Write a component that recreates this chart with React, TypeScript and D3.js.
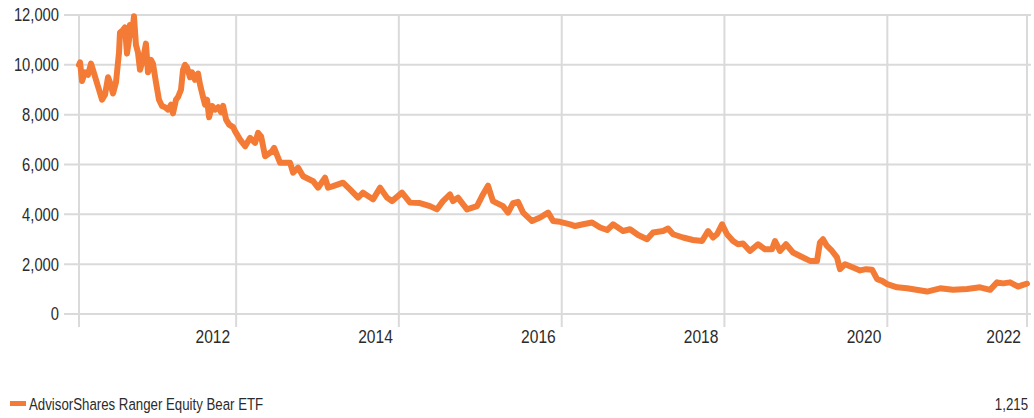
import React, { useEffect, useRef } from "react";
import * as d3 from "d3";

// dates as fractional years, values as growth of 10,000
const dates = [
  2011.071, 2011.084, 2011.108, 2011.145, 2011.182, 2011.219, 2011.243, 2011.28, 2011.317, 2011.354,
  2011.391, 2011.428, 2011.452, 2011.489, 2011.526, 2011.563, 2011.575, 2011.612, 2011.636, 2011.661,
  2011.686, 2011.698, 2011.722, 2011.747, 2011.771, 2011.796, 2011.821, 2011.857, 2011.894, 2011.919,
  2011.956, 2011.98, 2012.017, 2012.054, 2012.091, 2012.128, 2012.165, 2012.201, 2012.226, 2012.263,
  2012.287, 2012.324, 2012.349, 2012.373, 2012.398, 2012.435, 2012.459, 2012.496, 2012.533, 2012.558,
  2012.595, 2012.619, 2012.644, 2012.668, 2012.705, 2012.742, 2012.779, 2012.816, 2012.84, 2012.877,
  2012.914, 2012.963, 2012.988, 2013.049, 2013.111, 2013.172, 2013.233, 2013.27, 2013.307, 2013.356,
  2013.442, 2013.467, 2013.541, 2013.663, 2013.7, 2013.762, 2013.823, 2013.946, 2014.007, 2014.093,
  2014.13, 2014.192, 2014.314, 2014.4, 2014.499, 2014.56, 2014.683, 2014.769, 2014.855, 2014.916,
  2015.039, 2015.138, 2015.26, 2015.383, 2015.469, 2015.543, 2015.629, 2015.666, 2015.727, 2015.838,
  2015.961, 2016.034, 2016.096, 2016.157, 2016.28, 2016.342, 2016.403, 2016.464, 2016.526, 2016.636,
  2016.735, 2016.833, 2016.894, 2016.98, 2017.103, 2017.165, 2017.263, 2017.373, 2017.472, 2017.558,
  2017.631, 2017.754, 2017.84, 2017.939, 2018.049, 2018.123, 2018.246, 2018.307, 2018.369, 2018.491,
  2018.614, 2018.725, 2018.799, 2018.86, 2018.909, 2018.971, 2019.032, 2019.106, 2019.167, 2019.229,
  2019.314, 2019.413, 2019.499, 2019.585, 2019.622, 2019.683, 2019.757, 2019.843, 2019.929, 2020.052,
  2020.138, 2020.174, 2020.211, 2020.26, 2020.322, 2020.383, 2020.42, 2020.482, 2020.58, 2020.666,
  2020.74, 2020.813, 2020.875, 2020.936, 2020.998, 2021.12, 2021.243, 2021.489, 2021.649, 2021.808,
  2021.98, 2022.14, 2022.263, 2022.349, 2022.423, 2022.509, 2022.607, 2022.668, 2022.717,
];

const values = [
  10000, 10100, 9350, 9700, 9600, 10050, 9800, 9400, 9000, 8600,
  8800, 9500, 9300, 8850, 9300, 10500, 11300, 11400, 11500, 10450,
  11000, 11600, 11200, 11950, 10800, 10500, 9800, 10200, 10850, 9700,
  10200, 10050, 9300, 8600, 8350, 8300, 8200, 8400, 8050, 8600,
  8700, 9000, 9800, 10000, 9900, 9500, 9700, 9400, 9650, 9200,
  8700, 8400, 8600, 7900, 8350, 8200, 8300, 8100, 8350, 7800,
  7600, 7500, 7330, 7000, 6730, 7070, 6870, 7270, 7130, 6330,
  6530, 6670, 6070, 6070, 5670, 5870, 5530, 5330, 5070, 5470,
  5070, 5130, 5270, 5000, 4670, 4870, 4600, 5070, 4670, 4530,
  4870, 4470, 4450, 4330, 4200, 4530, 4800, 4530, 4670, 4200,
  4330, 4800, 5150, 4530, 4330, 4070, 4450, 4500, 4070, 3730,
  3870, 4070, 3730, 3700, 3600, 3530, 3600, 3670, 3470, 3370,
  3600, 3330, 3400, 3170, 3000, 3270, 3330, 3430, 3200, 3070,
  2970, 2930, 3330, 3070, 3200, 3600, 3200, 2930, 2800, 2830,
  2530, 2800, 2600, 2600, 2930, 2530, 2800, 2470, 2330, 2130,
  2130, 2870, 3000, 2730, 2530, 2270, 1800, 2000, 1870, 1750,
  1800, 1780, 1400, 1330, 1200, 1070, 1030, 900, 1030, 970,
  1000, 1070, 970, 1270, 1230, 1270, 1100, 1170, 1215,
];

const yTicks = [0, 2000, 4000, 6000, 8000, 10000, 12000];
const tickYears = [2012, 2014, 2016, 2018, 2020, 2022];
const seriesName = "AdvisorShares Ranger Equity Bear ETF";
const lastValue = "1,215";

const toDate = (y: number) => {
  const yr = Math.floor(y);
  const start = new Date(yr, 0, 1).getTime();
  const end = new Date(yr + 1, 0, 1).getTime();
  return new Date(start + (y - yr) * (end - start));
};

const App: React.FC = () => {
  const svgRef = useRef<SVGSVGElement>(null);
  const width = 1034;
  const height = 418;
  // no condensed face installed, so squeeze Liberation Sans horizontally
  const font = "'Liberation Sans', Arial, sans-serif";
  const orange = "#f47b36";
  const grid = "#dadada";
  const ink = "#2b2b2b";

  useEffect(() => {
    const svg = d3.select(svgRef.current);
    svg.selectAll("*").remove();

    const label = (
      g: d3.Selection<any, any, any, any>,
      x: number,
      y: number,
      size: number,
      squeeze: number,
      anchor: string,
      txt: string,
      dy = "0",
    ) =>
      g.append("text")
        .attr("transform", `translate(${x},${y}) scale(${squeeze},1)`)
        .attr("dy", dy)
        .attr("text-anchor", anchor)
        .attr("font-family", font)
        .attr("font-size", size)
        .attr("fill", ink)
        .text(txt);

    const data = dates.map((d, i) => ({ date: toDate(d), value: values[i] }));
    const start = data[0].date;
    const end = data[data.length - 1].date;

    const x = d3.scaleTime().domain([start, end]).range([79, 1027]);
    const y = d3.scaleLinear().domain([0, 12000]).range([314, 15]);

    // horizontal grid + y labels
    const gy = svg.append("g");
    gy.selectAll("line")
      .data(yTicks)
      .enter()
      .append("line")
      .attr("x1", 64)
      .attr("x2", 1031)
      .attr("y1", (d) => y(d))
      .attr("y2", (d) => y(d))
      .attr("stroke", grid)
      .attr("stroke-width", 2);
    yTicks.forEach((t) => label(gy, 59, y(t), 18, 0.82, "end", d3.format(",")(t), "0.36em"));

    // vertical grid at start, year ends and end of data
    const tickDates = tickYears.map((yr) => {
      const d = new Date(yr + 1, 0, 1);
      return d > end ? end : d;
    });
    const gx = svg.append("g");
    gx.selectAll("line")
      .data([start, ...tickDates])
      .enter()
      .append("line")
      .attr("x1", (d) => x(d))
      .attr("x2", (d) => x(d))
      .attr("y1", 15)
      .attr("y2", 327)
      .attr("stroke", grid)
      .attr("stroke-width", 2);
    tickDates.forEach((d, i) => label(gx, x(d) - 6, 343, 19, 0.82, "end", String(tickYears[i])));

    const line = d3
      .line<{ date: Date; value: number }>()
      .x((d) => x(d.date))
      .y((d) => y(d.value));

    svg.append("path")
      .datum(data)
      .attr("d", line)
      .attr("fill", "none")
      .attr("stroke", orange)
      .attr("stroke-width", 6)
      .attr("stroke-linejoin", "round")
      .attr("stroke-linecap", "round");

    // legend
    const gl = svg.append("g");
    gl.append("rect")
      .attr("x", 10)
      .attr("y", 401)
      .attr("width", 16)
      .attr("height", 5)
      .attr("fill", orange);
    label(gl, 29, 410, 17, 0.78, "start", seriesName);
    label(gl, 1028, 410, 17, 0.78, "end", lastValue);
  }, []);

  return (
    <svg
      ref={svgRef}
      width={width}
      height={height}
      viewBox={`0 0 ${width} ${height}`}
      style={{ position: "absolute", left: 0, top: 0, background: "#fff" }}
    ></svg>
  );
};

export default App;
